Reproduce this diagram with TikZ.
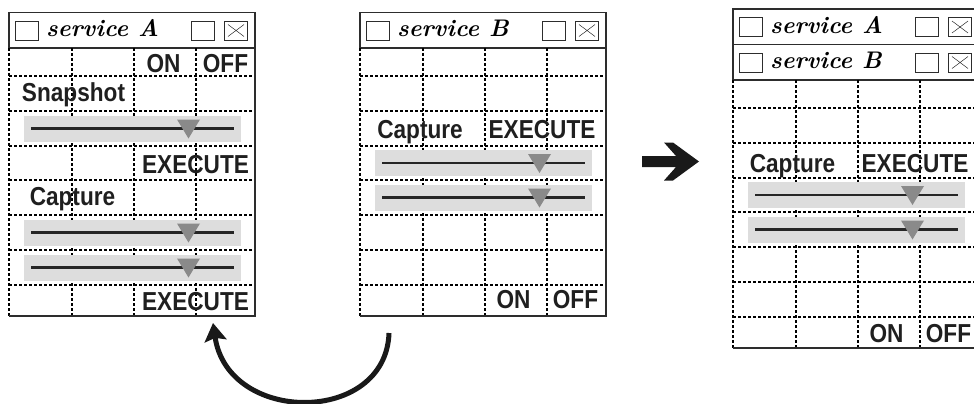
\documentclass[tikz,border=0pt]{standalone}
\usepackage{fontspec}
\newfontfamily\ctlfont[FakeStretch=0.87]{Liberation Sans}
\usetikzlibrary{positioning,arrows.meta,calc}
\definecolor{framegray}{RGB}{45,45,45}
\definecolor{trackgray}{RGB}{221,221,221}
\definecolor{knobgray}{RGB}{138,138,138}

% title bar of a service window: name, left, top, caption
\newcommand{\wintitlebar}[4]{%
  \draw[frame] (#2,#3) rectangle ++(246,35.5);
  \node[winbtn]   (#1-menu)  at (#2+18,#3+18) {};
  \node[wintitle] (#1-title) at (#2+37,#3+24.5) {#4};
  \node[winbtn]   (#1-min)   at (#2+193.5,#3+18) {};
  \node[winbtn]   (#1-close) at (#2+227,#3+18) {};
  \draw[thin] ($(#1-close.north west)+(4,4)$) -- ($(#1-close.south east)+(-4,-4)$);
  \draw[thin] ($(#1-close.north east)+(-4,4)$) -- ($(#1-close.south west)+(4,-4)$);
}

% dashed cells below the title bar: left, top
\newcommand{\cellgrid}[2]{%
  \foreach \dy in {28,63,98,132,167,202,237}
    \draw[cell] (#1,#2+\dy) -- ++(246,0);
  \foreach \dx in {0,63,125,187}
    \draw[cell] (#1+\dx,#2) -- ++(0,268);
  \draw[frame] (#1+246,#2) -- ++(0,268) -- ++(-246,0);
}

% slider track and knob: window left, middle of the row
\newcommand{\slidebar}[2]{%
  \fill[trackgray] (#1+15,#2-13) rectangle (#1+232,#2+13);
  \draw[track] (#1+22,#2) -- (#1+225,#2);
  \fill[knobgray] (#1+168,#2-9) -- (#1+191,#2-9) -- (#1+179.5,#2+10) -- cycle;
}

\begin{document}
\begin{tikzpicture}[x=1pt, y=-1pt,
    frame/.style={draw=framegray, line width=1.4pt},
    cell/.style={draw=black, line width=1.1pt, dash pattern=on 2.6pt off 2.4pt},
    track/.style={draw=black!85, line width=2.6pt},
    winbtn/.style={draw=framegray, line width=0.9pt, minimum width=23pt, minimum height=19pt, inner sep=0pt},
    wintitle/.style={font=\bfseries\itshape\fontsize{24}{24}\selectfont, inner sep=0pt, anchor=base west},
    ctl/.style={font=\ctlfont\bfseries\fontsize{26}{26}\selectfont, text=black!88, inner sep=0pt, anchor=base},
    backarrow/.style={-{Stealth[length=18pt,width=22pt,inset=3pt]}, line width=5pt, draw=black!90}
]
\useasboundingbox (0,0) rectangle (974,404);
\clip (0,0) rectangle (974,404);

% service A
\wintitlebar{a}{9}{12.5}{service A}
\cellgrid{9}{48}
\slidebar{9}{128.5}
\slidebar{9}{232.5}
\slidebar{9}{267.5}
\node[ctl] (aOn)   at (163.5,73)  {ON};
\node[ctl] (aOff)  at (225.5,73)  {OFF};
\node[ctl] (aSnap) at (73.5,101)  {Snapshot};
\node[ctl] (aExecSnap) at (195.5,173) {EXECUTE};
\node[ctl] (aCapture)  at (72.5,205)  {Capture};
\node[ctl] (aExecCap)  at (195.5,310) {EXECUTE};

% service B
\wintitlebar{b}{360}{12.5}{service B}
\cellgrid{360}{48}
\slidebar{360}{163}
\slidebar{360}{197.5}
\node[ctl] (bCapture) at (420,138)   {Capture};
\node[ctl] (bExec)    at (542,138)   {EXECUTE};
\node[ctl] (bOn)      at (513.5,308) {ON};
\node[ctl] (bOff)     at (575.5,308) {OFF};

% merged window
\wintitlebar{ca}{733}{9}{service A}
\wintitlebar{cb}{733}{44.5}{service B}
\cellgrid{733}{80}
\slidebar{733}{195}
\slidebar{733}{229.5}
\node[ctl] (cCapture) at (792.5,172) {Capture};
\node[ctl] (cExec)    at (915,172)   {EXECUTE};
\node[ctl] (cOn)      at (886.5,342) {ON};
\node[ctl] (cOff)     at (948.5,342) {OFF};

% heavy arrow towards the merged window
\fill[black!90] (642,156) -- (676,156) -- (664,142.5) -- (673,142.5) -- (699,161.5)
  -- (673,180.5) -- (664,180.5) -- (676,167) -- (642,167) -- cycle;

% B hands back to A
\coordinate (bOut) at (389,333);
\coordinate (aIn)  at (213,323);
\draw[backarrow] (bOut) .. controls +(-3,92) and +(15,102) .. (aIn);
\end{tikzpicture}
\end{document}
